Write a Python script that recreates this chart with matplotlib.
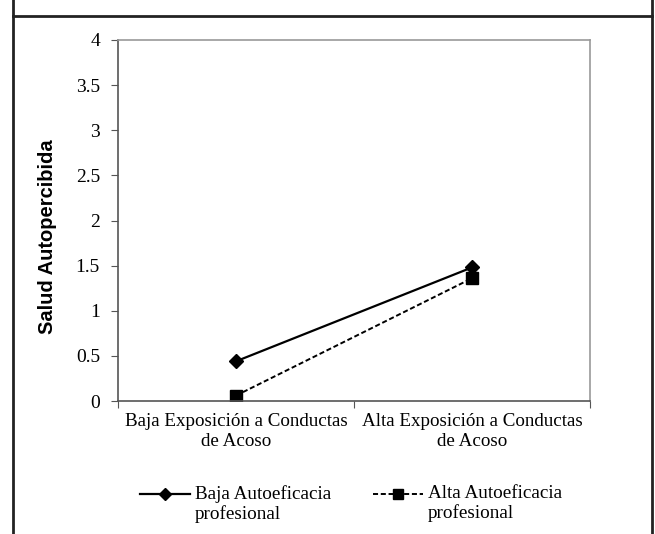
import matplotlib
matplotlib.use('Agg')
import matplotlib.pyplot as plt
from matplotlib.lines import Line2D

categories = ['Baja Exposición a Conductas\nde Acoso', 'Alta Exposición a Conductas\nde Acoso']
baja_autoeficacia = [0.44, 1.48]
alta_autoeficacia = [0.06, 1.36]
series_labels = ['Baja Autoeficacia\nprofesional', 'Alta Autoeficacia\nprofesional']
y_ticks = [0, 0.5, 1, 1.5, 2, 2.5, 3, 3.5, 4]

plt.rcParams['font.family'] = ['Liberation Serif', 'DejaVu Serif']

W, H = 655, 534
fig = plt.figure(figsize=(W / 100, H / 100), dpi=100)
ax = fig.add_axes([118 / W, 1 - 401 / H, (590 - 118) / W, (401 - 40) / H])

x = list(range(len(categories)))
solid_style = dict(color='black', lw=1.6)
dash_style = dict(color='black', lw=1.4, ls=(0, (2.6, 1.4)))
ax.plot(x, baja_autoeficacia, marker='D', ms=7, **solid_style)
ax.plot(x, alta_autoeficacia, marker='s', ms=8.5, **dash_style)

ax.set_xlim(-0.5, 1.5)
ax.set_ylim(0, 4)
ax.set_yticks(y_ticks)
ax.set_yticklabels([f'{v:g}' for v in y_ticks], fontsize=14)
ax.set_xticks([-0.5, 0.5, 1.5])
ax.set_xticklabels([])
ax.set_xticks(x, minor=True)
ax.set_xticklabels(categories, minor=True, fontsize=13.7, linespacing=1.18)
ax.tick_params(axis='x', which='minor', length=0, pad=9)
ax.tick_params(axis='x', which='major', direction='out', length=5, color='#555555')
ax.tick_params(axis='y', direction='out', length=5, color='#555555', pad=8)

for side in ['left', 'bottom']:
    ax.spines[side].set_color('#555555')
    ax.spines[side].set_linewidth(1.2)
for side in ['top', 'right']:
    ax.spines[side].set_color('#999999')
    ax.spines[side].set_linewidth(1.2)

ax.set_ylabel('Salud Autopercibida', fontsize=14.5, fontweight='bold',
              family=['Liberation Sans', 'DejaVu Sans'])
ax.yaxis.set_label_coords((57 - 118) / 472, (401 - 237) / 361)

# legend drawn by hand so the key sits on the first text line
legend_items = [
    (140, 190, 'D', 6, solid_style, 195),
    (373, 423, 's', 7, dash_style, 428),
]
y_key = 1 - 494 / H
for (x0, x1, mk, ms, style, tx), label in zip(legend_items, series_labels):
    fig.add_artist(Line2D([x0 / W, x1 / W], [y_key, y_key], **style))
    fig.add_artist(Line2D([(x0 + x1) / 2 / W], [y_key], marker=mk, ms=ms,
                          color='black', ls='none'))
    fig.text(tx / W, 1 - 485 / H, label, fontsize=13.8, va='top', ha='left',
             linespacing=1.18)

# outer frame of the source figure
fig.add_artist(Line2D([13 / W, 13 / W], [0, 1], color='#222222', lw=2))
fig.add_artist(Line2D([652 / W, 652 / W], [0, 1], color='#222222', lw=2))
fig.add_artist(Line2D([13 / W, 652 / W], [1 - 16 / H, 1 - 16 / H], color='#222222', lw=2))

fig.savefig('out.png', dpi=100)
